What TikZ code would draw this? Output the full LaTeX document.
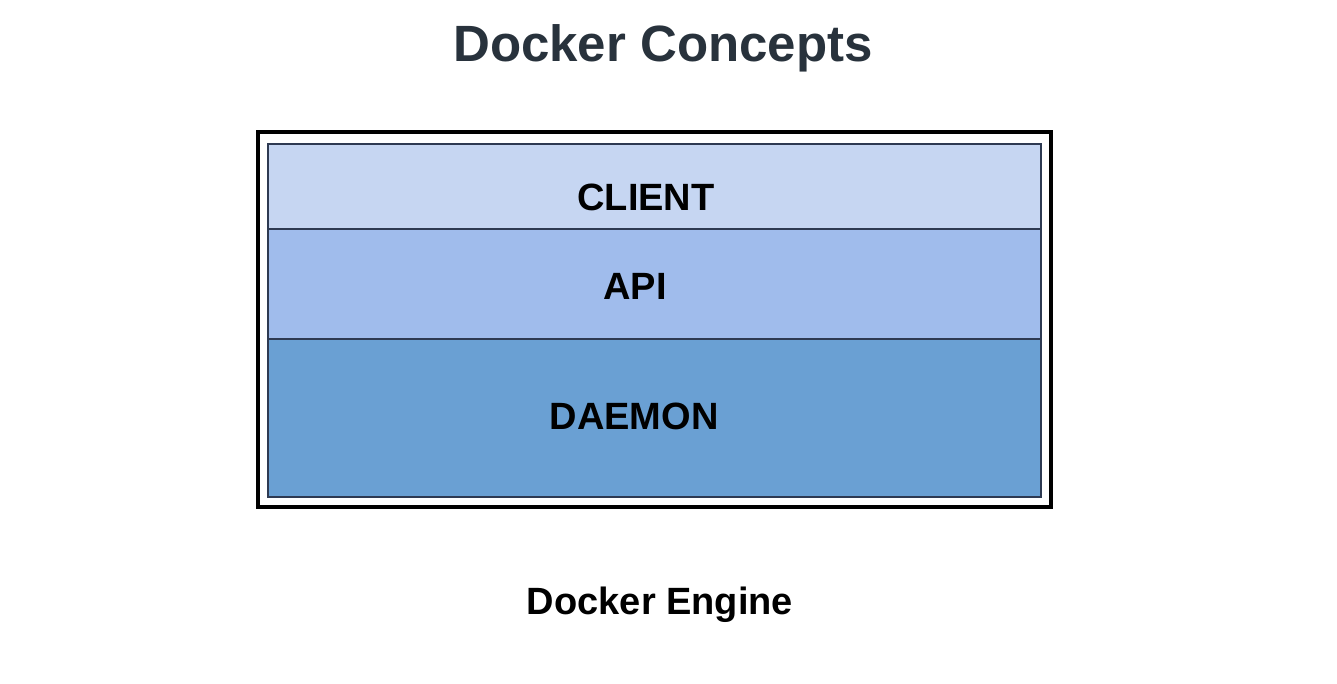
\documentclass[tikz,border=0pt]{standalone}
\usepackage{fontspec}
\setmainfont{Liberation Sans}
\definecolor{titlecol}{HTML}{28323C}
\definecolor{clientcol}{HTML}{C6D6F2}
\definecolor{apicol}{HTML}{A0BCEC}
\definecolor{daemoncol}{HTML}{6AA0D3}
\definecolor{bandline}{HTML}{2E3A52}
\tikzset{
  band/.style={draw=bandline, line width=1.5pt, minimum width=773pt, inner sep=0pt, outer sep=0pt},
  lbl/.style={anchor=base, inner sep=0pt, font=\fontsize{38}{40}\selectfont\bfseries},
}
\begin{document}
\begin{tikzpicture}[x=1pt,y=-1pt]
\useasboundingbox[fill=white] (0,0) rectangle (1337,684);
\node[anchor=base, inner sep=0pt, text=titlecol, font=\fontsize{51}{54}\selectfont\bfseries] (title) at (663,62) {Docker Concepts};
\node[draw=black, line width=4pt, minimum width=793pt, minimum height=375pt, inner sep=0pt] (engine) at (654.5,319.5) {};
\node[band, fill=clientcol, minimum height=85pt] (client) at (654.5,186.5) {};
\node[band, fill=apicol, minimum height=110pt] (api) at (654.5,284) {};
\node[band, fill=daemoncol, minimum height=158pt] (daemon) at (654.5,418) {};
\node[lbl] (clientlbl) at (646,211) {CLIENT};
\node[lbl] (apilbl) at (635,299) {API};
\node[lbl] (daemonlbl) at (634,429) {DAEMON};
\node[lbl] (enginelbl) at (660,614) {Docker Engine};
\end{tikzpicture}
\end{document}
